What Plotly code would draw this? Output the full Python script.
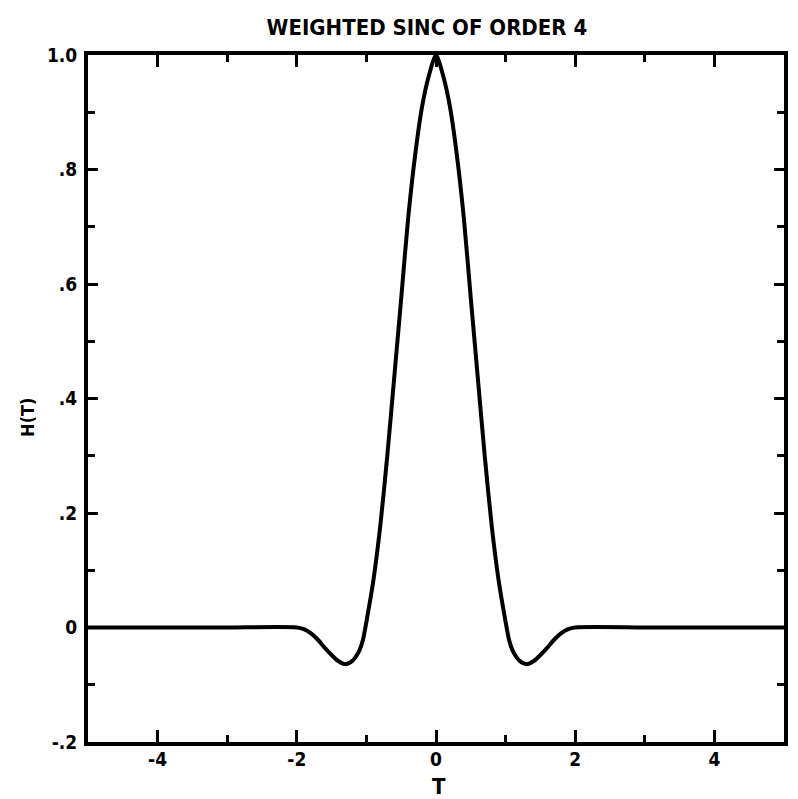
import plotly.graph_objects as go

# Sampled response of the weighted sinc (order 4): time T and amplitude H(T)
t_vals = [-5.0, -4.0, -3.0, -2.0, -1.9, -1.8, -1.7, -1.6, -1.5, -1.4, -1.3, -1.2,
          -1.1, -1.05, -1.0, -0.9, -0.8, -0.7, -0.6, -0.5, -0.4, -0.3, -0.2, -0.1,
          0.0, 0.1, 0.2, 0.3, 0.4, 0.5, 0.6, 0.7, 0.8, 0.9, 1.0, 1.05, 1.1, 1.2,
          1.3, 1.4, 1.5, 1.6, 1.7, 1.8, 1.9, 2.0, 3.0, 4.0, 5.0]
h_vals = [0.0, 0.0, 0.0, 0.0, -0.003, -0.010, -0.021, -0.035, -0.048, -0.059, -0.064, -0.058,
          -0.040, -0.022, 0.010, 0.082, 0.178, 0.300, 0.437, 0.575, 0.715, 0.825, 0.910, 0.965,
          1.0, 0.965, 0.910, 0.825, 0.715, 0.575, 0.437, 0.300, 0.178, 0.082, 0.010, -0.022, -0.040, -0.058,
          -0.064, -0.059, -0.048, -0.035, -0.021, -0.010, -0.003, 0.0, 0.0, 0.0, 0.0]

x_tick_vals = [-4, -2, 0, 2, 4]
x_tick_text = ["-4", "-2", "0", "2", "4"]
y_tick_vals = [-0.2, 0.0, 0.2, 0.4, 0.6, 0.8, 1.0]
y_tick_text = ["-.2", "0", ".2", ".4", ".6", ".8", "1.0"]

FONT = "Liberation Sans Narrow, DejaVu Sans Condensed, Roboto Condensed, Arial Narrow, DejaVu Sans, sans-serif"

fig = go.Figure()
fig.add_trace(go.Scatter(
    x=t_vals, y=h_vals, mode="lines",
    line=dict(color="black", width=4, shape="spline", smoothing=0.7),
    cliponaxis=False, showlegend=False,
))

axis_common = dict(
    showline=True, linecolor="black", linewidth=4, mirror="ticks",
    ticks="inside", tickcolor="black", tickwidth=3,
    showgrid=False, zeroline=False, automargin=False,
    tickfont=dict(family=FONT, size=19, color="black", weight="bold"),
)

fig.update_xaxes(
    range=[-5, 5], tickvals=x_tick_vals, ticktext=x_tick_text, ticklen=12,
    minor=dict(ticks="inside", dtick=1, tick0=0, ticklen=7, tickwidth=3, tickcolor="black"),
    ticklabelstandoff=-3,
    **axis_common,
)
fig.update_yaxes(
    range=[-0.2, 1.0], tickvals=y_tick_vals, ticktext=y_tick_text, ticklen=10,
    minor=dict(ticks="inside", dtick=0.1, tick0=0, ticklen=7, tickwidth=3, tickcolor="black"),
    ticklabelstandoff=3,
    **axis_common,
)

fig.update_layout(
    width=798, height=799,
    margin=dict(l=88, r=14, t=55, b=57),
    paper_bgcolor="white", plot_bgcolor="white",
    title=dict(text="<b>WEIGHTED SINC OF ORDER 4</b>",
               font=dict(family=FONT, size=22, color="black"),
               x=0.535, xanchor="center", y=0.966, yanchor="middle"),
    annotations=[
        dict(text="<b>T</b>", xref="paper", yref="paper", x=0.505, y=-0.065,
             xanchor="center", yanchor="middle", showarrow=False,
             font=dict(family=FONT, size=22, color="black")),
        dict(text="<b>H(T)</b>", xref="paper", yref="paper", x=-0.086, y=0.472,
             xanchor="center", yanchor="middle", showarrow=False, textangle=-90,
             font=dict(family=FONT, size=18, color="black")),
    ],
)

fig.write_html("out.html")
